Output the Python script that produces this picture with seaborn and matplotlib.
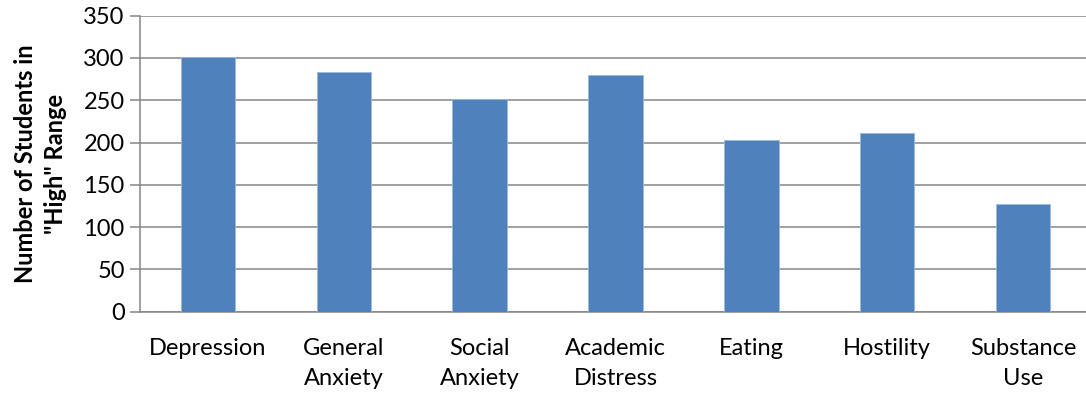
import matplotlib
matplotlib.use("Agg")
import matplotlib.pyplot as plt
import seaborn as sns
import pandas as pd

categories = ["Depression", "General\nAnxiety", "Social\nAnxiety", "Academic\nDistress",
              "Eating", "Hostility", "Substance\nUse"]
counts = [301, 284, 251, 280, 203, 211, 127]
y_ticks = [0, 50, 100, 150, 200, 250, 300, 350]

sns.set_theme(style="white")
plt.rcParams["font.family"] = ["Lato", "DejaVu Sans"]

df = pd.DataFrame({"category": categories, "count": counts})

fig = plt.figure(figsize=(10.86, 3.95), dpi=100)
ax = fig.add_axes([140 / 1086, 1 - 311.7 / 395, (1091 - 140) / 1086, (311.7 - 15.7) / 395])

grid_color = "#868686"
sns.barplot(data=df, x="category", y="count", color="#4F81BD", saturation=1,
            width=0.4, edgecolor="#9DB8DA", linewidth=0.6, ax=ax, zorder=3)

ax.set_xlim(-0.5, len(categories) - 0.5)
ax.set_ylim(0, 350)
ax.set_yticks(y_ticks)
ax.yaxis.grid(True, color=grid_color, linewidth=1.1, zorder=0)
ax.set_axisbelow(True)

for side in ["top", "right"]:
    ax.spines[side].set_visible(False)
for side in ["left", "bottom"]:
    ax.spines[side].set_color(grid_color)
    ax.spines[side].set_linewidth(1.1)

# Category labels sit between boundary tick marks
ax.set_xticks(range(len(categories)))
ax.set_xticklabels(categories, fontsize=17, color="#000000", linespacing=1.55)
ax.tick_params(axis="x", which="major", length=0, pad=19)
ax.set_xticks([i - 0.5 for i in range(len(categories))], minor=True)
ax.tick_params(axis="x", which="minor", length=7, width=1.1, color=grid_color, direction="out")
ax.tick_params(axis="y", length=7, width=1.1, color=grid_color, direction="out",
               labelsize=17, labelcolor="#000000", pad=4, left=True)

ax.set_xlabel("")
ax.set_ylabel('Number of Students in\n"High" Range', fontsize=17, fontweight="bold",
              color="#000000", linespacing=1.35, labelpad=12)

fig.savefig("out.png", dpi=100)
